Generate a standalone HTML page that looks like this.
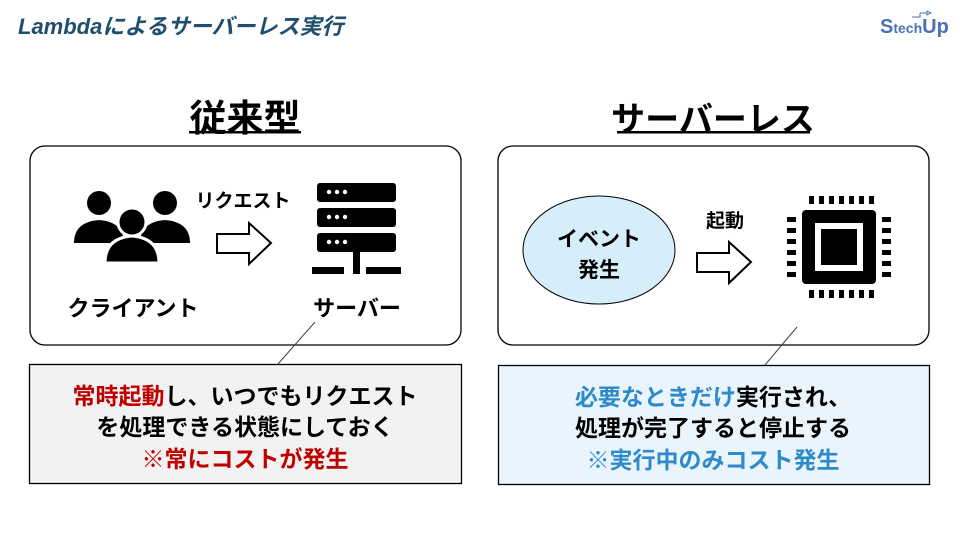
<!DOCTYPE html>
<html><head><meta charset="utf-8"><style>
body{margin:0;background:#fff;}
svg text{font-family:"Liberation Sans","Noto Sans CJK JP",sans-serif;font-weight:bold;}
</style></head><body>
<svg width="960" height="540" viewBox="0 0 960 540" xmlns="http://www.w3.org/2000/svg">
<text x="18" y="34" font-size="22" font-style="italic" fill="#1f4e6e" font-weight="bold">Lambdaによるサーバーレス実行</text>
<text x="880" y="33" font-size="20" fill="#4a72b8" font-weight="normal">S<tspan font-size="14">tech</tspan>Up</text>
<path d="M920 13 H927 V11 L931 13 L927 15 V13" stroke="#4a72b8" fill="none" stroke-width="1"/>
<path d="M912 17 H920 V13" stroke="#4a72b8" fill="none" stroke-width="1"/>

<text x="245" y="131" font-size="37" text-anchor="middle" fill="#000">従来型</text>
<rect x="189" y="131" width="112" height="2.5" fill="#000"/>
<text x="713" y="131" font-size="34" text-anchor="middle" fill="#000">サーバーレス</text>
<rect x="617" y="131" width="193" height="2.5" fill="#000"/>

<rect x="30" y="146" width="431" height="199" rx="15" fill="#fff" stroke="#000" stroke-width="1.3"/>
<rect x="498" y="146" width="431" height="199" rx="15" fill="#fff" stroke="#000" stroke-width="1.3"/>

<g fill="#000">
<circle cx="99" cy="203" r="12"/><path d="M74 243 Q74 222 99 220 Q124 222 124 243 Z"/>
<circle cx="165" cy="203" r="12"/><path d="M140 243 Q140 222 165 220 Q190 222 190 243 Z"/>
<circle cx="132" cy="222" r="14" stroke="#fff" stroke-width="3"/><path d="M105 263 Q105 238 132 236 Q159 238 159 263 Z" stroke="#fff" stroke-width="3"/>
</g>
<text x="243" y="207" font-size="19" text-anchor="middle">リクエスト</text>
<path d="M217 234 H249 V223 L271 243 L249 264 V253 H217 Z" fill="#fff" stroke="#000" stroke-width="2"/>
<g fill="#000">
<rect x="317" y="183" width="79" height="19" rx="3"/><rect x="317" y="208" width="79" height="19" rx="3"/><rect x="317" y="233" width="79" height="19" rx="3"/>
<rect x="353" y="252" width="7" height="15"/>
<rect x="312" y="267" width="32" height="7"/><rect x="353" y="267" width="7" height="7"/><rect x="366" y="267" width="35" height="7"/>
</g>
<g fill="#fff"><circle cx="329" cy="192" r="2.2"/><circle cx="337" cy="192" r="2.2"/><circle cx="345" cy="192" r="2.2"/>
<circle cx="329" cy="217" r="2.2"/><circle cx="337" cy="217" r="2.2"/><circle cx="345" cy="217" r="2.2"/>
<circle cx="329" cy="242" r="2.2"/><circle cx="337" cy="242" r="2.2"/><circle cx="345" cy="242" r="2.2"/></g>
<text x="133" y="316" font-size="22" text-anchor="middle">クライアント</text>
<text x="357" y="316" font-size="22" text-anchor="middle">サーバー</text>

<ellipse cx="599" cy="250" rx="76" ry="54" fill="#d6eef9" stroke="#000" stroke-width="1"/>
<text x="599" y="246" font-size="21" text-anchor="middle">イベント</text>
<text x="599" y="277" font-size="21" text-anchor="middle">発生</text>
<text x="725" y="227" font-size="19" text-anchor="middle">起動</text>
<path d="M697 253 H729 V242 L751 262 L729 283 V272 H697 Z" fill="#fff" stroke="#000" stroke-width="2"/>
<rect x="802" y="210" width="74" height="74" rx="4" fill="#000"/>
<rect x="815" y="223" width="48" height="48" fill="#fff"/>
<rect x="821" y="229" width="36" height="36" fill="#000"/>
<g fill="#000">
<rect x="809" y="196" width="5" height="8"/><rect x="819" y="196" width="5" height="8"/><rect x="829" y="196" width="5" height="8"/><rect x="839" y="196" width="5" height="8"/><rect x="849" y="196" width="5" height="8"/><rect x="859" y="196" width="5" height="8"/><rect x="869" y="196" width="5" height="8"/>
<rect x="809" y="290" width="5" height="8"/><rect x="819" y="290" width="5" height="8"/><rect x="829" y="290" width="5" height="8"/><rect x="839" y="290" width="5" height="8"/><rect x="849" y="290" width="5" height="8"/><rect x="859" y="290" width="5" height="8"/><rect x="869" y="290" width="5" height="8"/>
<rect x="787" y="217" width="9" height="5"/><rect x="787" y="228" width="9" height="5"/><rect x="787" y="239" width="9" height="5"/><rect x="787" y="250" width="9" height="5"/><rect x="787" y="261" width="9" height="5"/><rect x="787" y="272" width="9" height="5"/>
<rect x="882" y="217" width="9" height="5"/><rect x="882" y="228" width="9" height="5"/><rect x="882" y="239" width="9" height="5"/><rect x="882" y="250" width="9" height="5"/><rect x="882" y="261" width="9" height="5"/><rect x="882" y="272" width="9" height="5"/>
</g>

<line x1="315" y1="322" x2="278" y2="364" stroke="#444" stroke-width="1"/>
<line x1="797" y1="327" x2="765" y2="365" stroke="#444" stroke-width="1"/>

<rect x="29.5" y="364.5" width="432" height="119" fill="#f2f2f2" stroke="#000" stroke-width="1.3"/>
<text x="245" y="404" font-size="23" text-anchor="middle"><tspan fill="#c00000">常時起動</tspan>し、いつでもリクエスト</text>
<text x="245" y="435" font-size="23" text-anchor="middle">を処理できる状態にしておく</text>
<text x="245" y="467" font-size="23" text-anchor="middle" fill="#c00000">※常にコストが発生</text>

<rect x="498.5" y="365.5" width="431" height="119" fill="#eaf4fc" stroke="#000" stroke-width="1.3"/>
<text x="713" y="405" font-size="23" text-anchor="middle"><tspan fill="#2e8bc9">必要なときだけ</tspan>実行され、</text>
<text x="713" y="436" font-size="23" text-anchor="middle">処理が完了すると停止する</text>
<text x="713" y="468" font-size="23" text-anchor="middle" fill="#2e8bc9">※実行中のみコスト発生</text>
</svg>
</body></html>
